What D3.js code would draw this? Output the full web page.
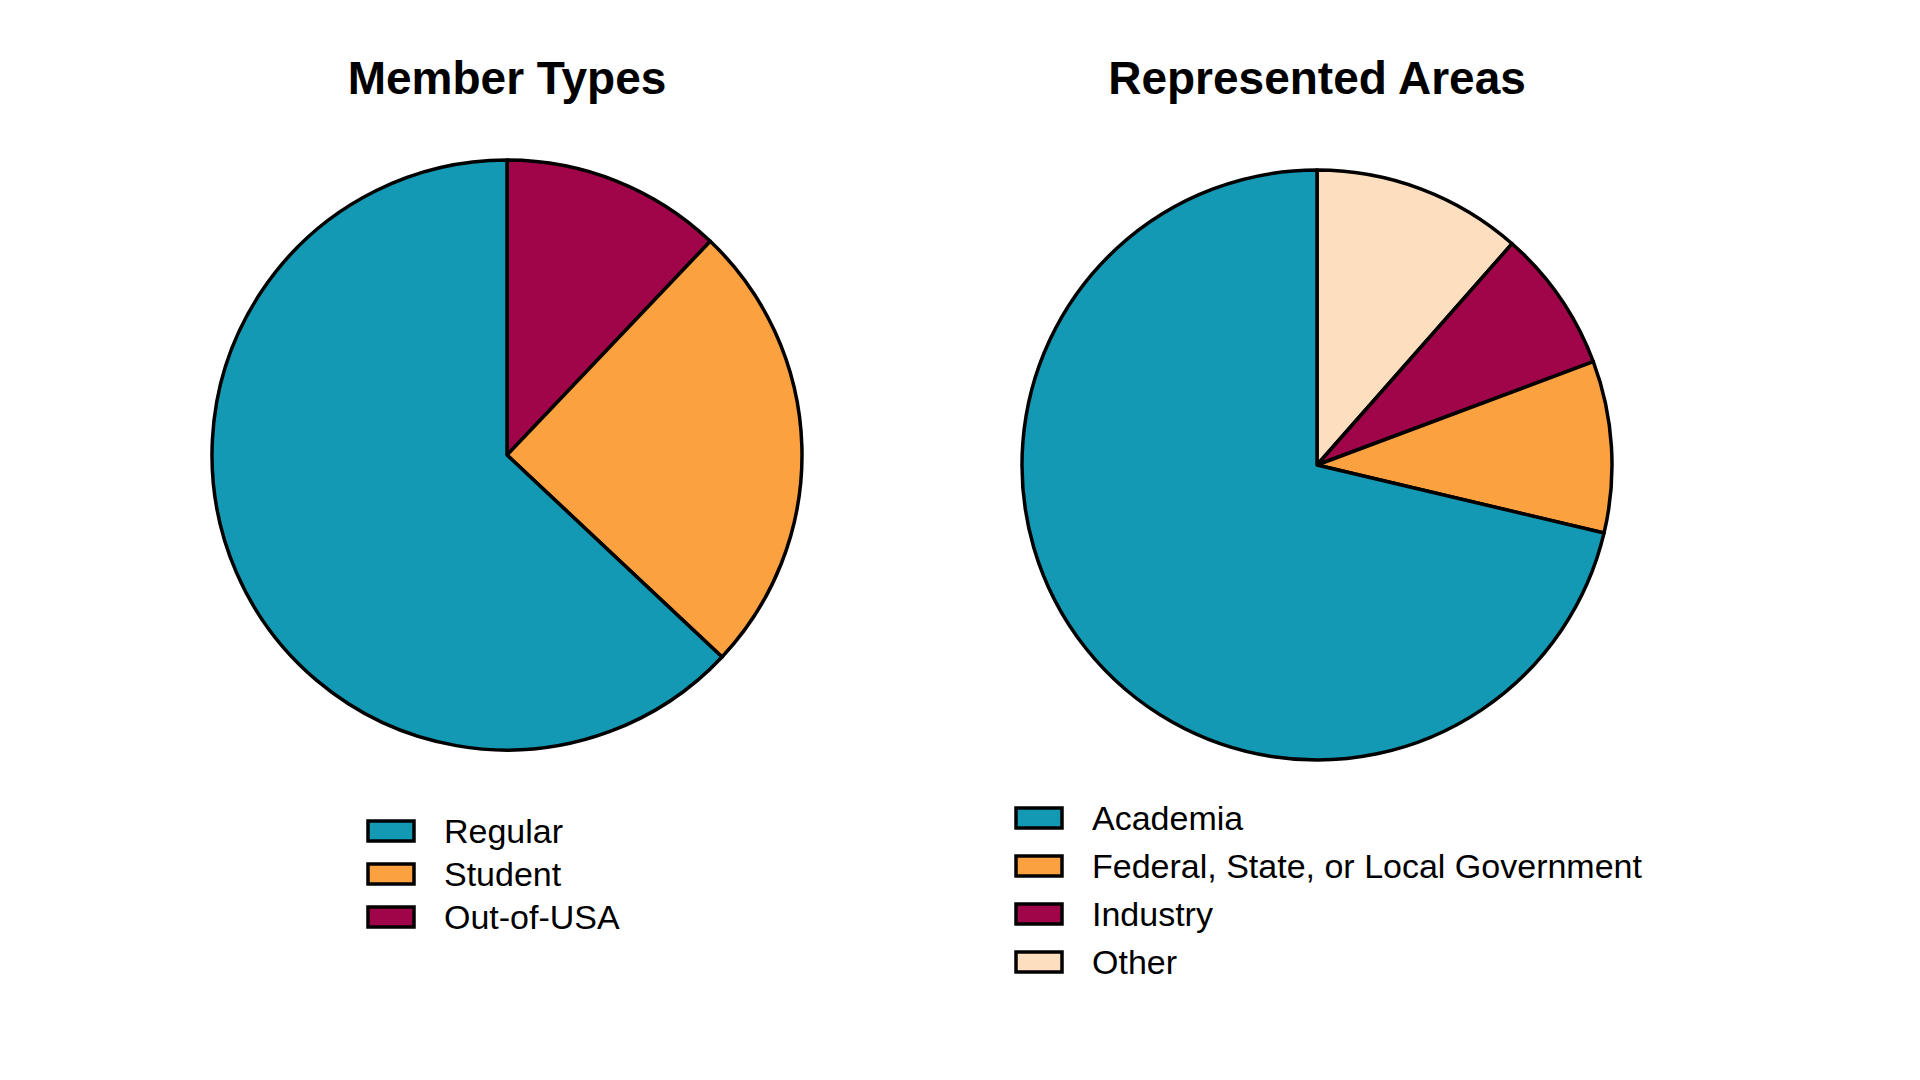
<!DOCTYPE html>
<head>
<meta charset="utf-8">
<script src="https://d3js.org/d3.v7.min.js"></script>
<style>body{margin:0;background:#fff;font-family:"Liberation Sans",Arial,sans-serif}</style>
</head>
<body>
<div id="container"></div>
<script>
// data: legend order; pie drawn clockwise from 12 o'clock in reverse order
var memberTypes = ["Regular", "Student", "Out-of-USA"],
    memberValues = [63.0, 24.9, 12.1],
    memberColors = ["#1399b3", "#fca13f", "#a0054a"];
var areaTypes = ["Academia", "Federal, State, or Local Government", "Industry", "Other"],
    areaValues = [71.3, 9.4, 7.8, 11.5],
    areaColors = ["#1399b3", "#fca13f", "#a0054a", "#fddfc0"];

var svg = d3.select("#container").append("svg").attr("width", 1920).attr("height", 1080);

function drawPie(title, labels, values, colors, cx, cy, r, titleY, legX, legY, legStep) {
    var g = svg.append("g");
    g.append("text").attr("x", cx).attr("y", titleY).attr("text-anchor", "middle")
        .attr("dominant-baseline", "central").style("font-size", "46px").style("font-weight", "bold")
        .text(title);

    var data = labels.map(function (l, i) { return { label: l, value: values[i], color: colors[i] }; }).reverse();
    var pie = d3.pie().sort(null).value(function (d) { return d.value; });
    var arc = d3.arc().innerRadius(0).outerRadius(r);
    g.append("g").attr("transform", "translate(" + cx + "," + cy + ")")
        .selectAll("path").data(pie(data)).enter().append("path")
        .attr("d", arc).attr("fill", function (d) { return d.data.color; })
        .attr("stroke", "#000").attr("stroke-width", 3.5).attr("stroke-linejoin", "round");

    var leg = g.selectAll(".legend").data(labels).enter().append("g")
        .attr("transform", function (d, i) { return "translate(" + legX + "," + (legY + i * legStep) + ")"; });
    leg.append("rect").attr("x", 0).attr("y", -10).attr("width", 46).attr("height", 20)
        .attr("fill", function (d, i) { return colors[i]; }).attr("stroke", "#000").attr("stroke-width", 3.5);
    leg.append("text").attr("x", 76).attr("y", 0).attr("dominant-baseline", "central")
        .style("font-size", "34px").text(function (d) { return d; });
}

drawPie("Member Types", memberTypes, memberValues, memberColors, 507, 455, 295, 78, 368, 831, 43);
drawPie("Represented Areas", areaTypes, areaValues, areaColors, 1317, 465, 295, 78, 1016, 818, 48);
</script>
</body>
